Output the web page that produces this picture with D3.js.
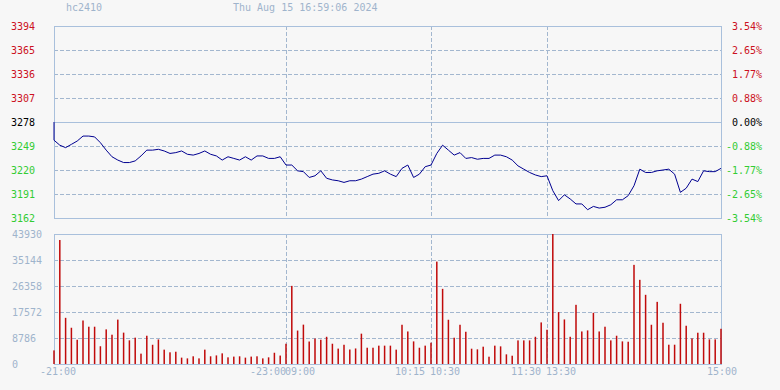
<!DOCTYPE html>
<html><head><meta charset="utf-8">
<script src="https://cdn.jsdelivr.net/npm/d3@7"></script>
<style>
body{margin:0;background:#f7f7f7}
svg{display:block}
text{font-family:"DejaVu Sans Mono",monospace;font-size:10px}
</style>
</head><body>
<svg id="c" width="780" height="390"></svg>
<script>
// ---------------- data ----------------
const symbol = "hc2410";
const timestamp = "Thu Aug 15 16:59:06 2024";
const prevClose = 3278;
const prices = [
 3256,3250,3247,3251,3255,3261,3261,3260,3253,3244,
 3236,3232,3229,3229,3231,3237,3244,3244,3245,3243,
 3240,3241,3243,3239,3238,3240,3243,3239,3237,3232,
 3236,3234,3232,3236,3232,3237,3237,3234,3234,3236,
 3226,3226,3219,3218,3211,3213,3219,3210,3208,3207,
 3205,3207,3207,3209,3212,3215,3216,3219,3215,3212,
 3222,3226,3211,3215,3224,3226,3240,3250,3244,3238,
 3241,3234,3235,3233,3234,3234,3238,3238,3236,3232,
 3225,3221,3217,3214,3212,3213,3195,3183,3190,3185,
 3179,3179,3172,3176,3174,3175,3178,3184,3184,3189,
 3201,3221,3217,3217,3219,3220,3221,3215,3193,3198,
 3209,3206,3219,3218,3218,3222
];
const volumes = [
 4600,41900,15600,12250,8200,14700,12600,12600,6000,11700,
 9900,15000,10600,8000,8900,3500,9550,6500,8300,4850,
 3950,4150,2150,1900,2600,1900,4850,2600,2900,3600,
 2250,2500,2600,2150,2500,2600,1900,2250,3800,2850,
 6850,26400,11300,13300,7600,8600,8200,9200,6850,5200,
 6500,4900,5250,10250,5500,5500,6200,6200,6200,4850,
 13260,11000,7640,5500,6200,7200,34600,25400,14950,8880,
 13260,10900,5170,4950,5850,2470,6200,5960,3260,2800,
 7980,7980,7980,9200,14050,11580,43930,17530,15060,9200,
 20000,11000,11350,17300,11000,12600,7980,9550,7640,7530,
 33500,28440,23380,13260,21000,13940,6520,6520,20350,12930,
 8650,10570,10570,8320,8320,11900
];
const priceTicks = [3394,3365,3336,3307,3278,3249,3220,3191,3162];
const percentTicks = ["3.54%","2.65%","1.77%","0.88%","0.00%","-0.88%","-1.77%","-2.65%","-3.54%"];
const volumeTicks = [0,8786,17572,26358,35144,43930];
const sessionBreaks = [40,65,85];          // bar index where a trading session ends
const timeLabels = ["-21:00","-23:00","09:00","10:15","10:30","11:30","13:30","15:00"];
const timeLabelIdx = [0,40,40,65,65,85,85,115];
const timeLabelSide = ["first","join","after","before","after","before","after","last"];

// ---------------- layout ----------------
const svg = d3.select("#c");
const L = 54, R = 721;
const pTop = 26, pBot = 218, vTop = 234, vBot = 364;
const gridCol = "#a3b7cf", frameCol = "#a9c0dc", lblCol = "#9fb4cc";
const upCol = "#cc1122", dnCol = "#33cc33";

const x = d3.scaleLinear().domain([0, prices.length - 1]).range([L, R]);
const yP = d3.scaleLinear().domain([d3.min(priceTicks), d3.max(priceTicks)]).range([pBot, pTop]);
const yV = d3.scaleLinear().domain([0, d3.max(volumeTicks)]).range([vBot, vTop]);

// header
svg.append("text").attr("x", 66).attr("y", 11).attr("fill", lblCol).text(symbol);
svg.append("text").attr("x", 233).attr("y", 11).attr("fill", lblCol).text(timestamp);

// price panel gridlines
const g = svg.append("g");
g.selectAll("line.hp").data(priceTicks.filter(t => t !== prevClose && t !== d3.max(priceTicks) && t !== d3.min(priceTicks)))
 .join("line").attr("x1", L).attr("x2", R).attr("y1", d => yP(d) + 0.5).attr("y2", d => yP(d) + 0.5)
 .attr("stroke", gridCol).attr("stroke-dasharray", "4,2");
g.append("line").attr("x1", L).attr("x2", R).attr("y1", yP(prevClose) + 0.5).attr("y2", yP(prevClose) + 0.5)
 .attr("stroke", frameCol);
g.selectAll("line.vp").data(sessionBreaks).join("line")
 .attr("x1", d => Math.round(x(d)) + 0.5).attr("x2", d => Math.round(x(d)) + 0.5)
 .attr("y1", pTop).attr("y2", pBot).attr("stroke", gridCol).attr("stroke-dasharray", "4,2");

// volume panel gridlines
g.selectAll("line.hv").data(volumeTicks.slice(1, -1)).join("line")
 .attr("x1", L).attr("x2", R).attr("y1", d => Math.round(yV(d)) + 0.5).attr("y2", d => Math.round(yV(d)) + 0.5)
 .attr("stroke", gridCol).attr("stroke-dasharray", "4,2");
g.selectAll("line.vv").data(sessionBreaks).join("line")
 .attr("x1", d => Math.round(x(d)) + 0.5).attr("x2", d => Math.round(x(d)) + 0.5)
 .attr("y1", vTop).attr("y2", vBot).attr("stroke", gridCol).attr("stroke-dasharray", "4,2");

// frames
svg.append("rect").attr("x", L + 0.5).attr("y", pTop + 0.5).attr("width", R - L).attr("height", pBot - pTop)
 .attr("fill", "none").attr("stroke", frameCol);
svg.append("rect").attr("x", L + 0.5).attr("y", vTop + 0.5).attr("width", R - L).attr("height", vBot - vTop)
 .attr("fill", "none").attr("stroke", frameCol);

// price line
const lineData = [{i: 0, v: prevClose}].concat(prices.map((v, i) => ({i, v})));
svg.append("path").datum(lineData)
 .attr("d", d3.line().x(d => x(d.i)).y(d => yP(d.v)))
 .attr("fill", "none").attr("stroke", "#000090").attr("stroke-width", 1);

// volume bars
svg.append("g").selectAll("rect").data(volumes).join("rect")
 .attr("x", (d, i) => x(i) - 0.75).attr("width", 1.5)
 .attr("y", d => yV(d)).attr("height", d => yV(0) - yV(d))
 .attr("fill", "#c00a0a");

// left price axis
const colorFor = v => v > prevClose ? upCol : v < prevClose ? dnCol : "#000";
const aL = svg.append("g").attr("transform", "translate(35,0)")
 .call(d3.axisLeft(yP).tickValues(priceTicks).tickSize(0).tickPadding(0).tickFormat(d3.format("d")));
aL.select(".domain").remove();
aL.selectAll("text").attr("font-family", "DejaVu Sans Mono").attr("font-size", 10).attr("fill", d => colorFor(d));

// right percent axis
const aR = svg.append("g").attr("transform", "translate(762,0)")
 .call(d3.axisLeft(yP).tickValues(priceTicks).tickSize(0).tickPadding(0)
   .tickFormat(d => percentTicks[priceTicks.indexOf(d)]));
aR.select(".domain").remove();
aR.selectAll("text").attr("font-family", "DejaVu Sans Mono").attr("font-size", 10).attr("fill", d => colorFor(d));

// volume axis
const aV = svg.append("g").attr("transform", "translate(12,0)")
 .call(d3.axisRight(yV).tickValues(volumeTicks).tickSize(0).tickPadding(0).tickFormat(d3.format("d")));
aV.select(".domain").remove();
aV.selectAll("text").attr("font-family", "DejaVu Sans Mono").attr("font-size", 10).attr("fill", lblCol);

// time labels
const side = {first: ["start", -14], join: ["end", 0], before: ["end", -6], after: ["start", -1], last: ["middle", 1]};
svg.append("g").selectAll("text").data(timeLabels).join("text")
 .attr("x", (d, k) => x(timeLabelIdx[k]) + side[timeLabelSide[k]][1])
 .attr("y", 375)
 .attr("text-anchor", (d, k) => side[timeLabelSide[k]][0])
 .attr("fill", lblCol).text(d => d);
</script>
</body></html>
